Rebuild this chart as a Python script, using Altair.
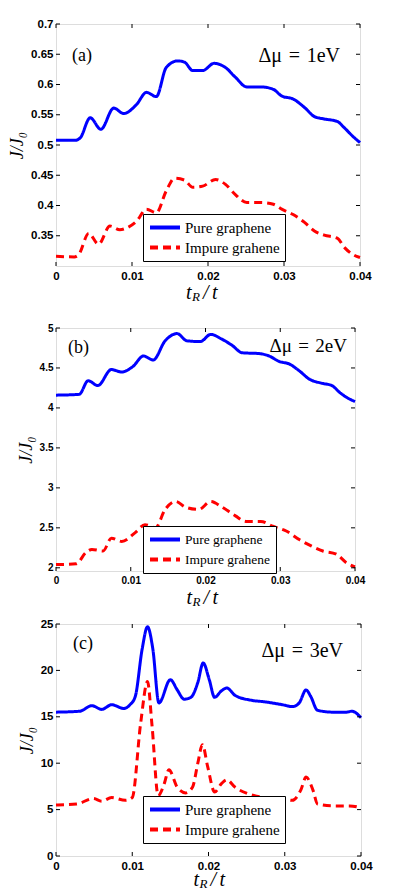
import altair as alt
import pandas as pd

PURE = "Pure graphene"
IMPURE = "Impure grahene"

# ---------------- Panel (a): Δμ = 1eV ----------------
a_x_pure = [0, 0.0026, 0.0032, 0.0045, 0.0059, 0.0076, 0.0089, 0.0106, 0.0119, 0.0132,
            0.0145, 0.016, 0.0169, 0.018, 0.0193, 0.0208, 0.0223, 0.0236, 0.0251, 0.027,
            0.0286, 0.0297, 0.0312, 0.0327, 0.034, 0.0353, 0.037, 0.0379, 0.039, 0.04]
a_y_pure = [0.508, 0.508, 0.512, 0.545, 0.526, 0.561, 0.552, 0.567, 0.587, 0.58,
            0.628, 0.639, 0.637, 0.623, 0.623, 0.635, 0.628, 0.612, 0.596, 0.596,
            0.592, 0.581, 0.576, 0.562, 0.547, 0.543, 0.539, 0.529, 0.515, 0.504]
a_x_imp = [0, 0.0024, 0.003, 0.0043, 0.0056, 0.0071, 0.0084, 0.0093, 0.0106, 0.0119,
           0.0132, 0.0145, 0.0156, 0.0169, 0.018, 0.0193, 0.021, 0.0223, 0.0236, 0.0251,
           0.027, 0.0286, 0.0297, 0.0312, 0.0327, 0.034, 0.0353, 0.037, 0.038, 0.0392, 0.04]
a_y_imp = [0.316, 0.315, 0.319, 0.354, 0.336, 0.366, 0.360, 0.363, 0.374, 0.394,
           0.388, 0.424, 0.445, 0.442, 0.430, 0.432, 0.443, 0.435, 0.418, 0.405,
           0.405, 0.402, 0.394, 0.385, 0.372, 0.358, 0.351, 0.346, 0.330, 0.318, 0.314]
a_yticks = [0.35, 0.4, 0.45, 0.5, 0.55, 0.6, 0.65, 0.7]

# ---------------- Panel (b): Δμ = 2eV ----------------
b_x_pure = [0, 0.0031, 0.0043, 0.0056, 0.0074, 0.0088, 0.0103, 0.0117, 0.013, 0.0146,
            0.0162, 0.0175, 0.0193, 0.0207, 0.0222, 0.0236, 0.0249, 0.0272, 0.0285, 0.0299,
            0.0312, 0.0326, 0.0339, 0.0355, 0.0369, 0.038, 0.0391, 0.04]
b_y_pure = [4.16, 4.17, 4.34, 4.28, 4.48, 4.45, 4.52, 4.65, 4.60, 4.84,
            4.93, 4.84, 4.83, 4.92, 4.86, 4.78, 4.69, 4.68, 4.65, 4.58,
            4.55, 4.46, 4.36, 4.31, 4.28, 4.19, 4.12, 4.08]
b_x_imp = [0, 0.0027, 0.004, 0.0048, 0.0063, 0.0074, 0.0088, 0.0106, 0.0119, 0.0133,
           0.0146, 0.016, 0.0173, 0.0191, 0.0207, 0.0222, 0.024, 0.0254, 0.0274, 0.029,
           0.0308, 0.0326, 0.0342, 0.0357, 0.0375, 0.0389, 0.04]
b_y_imp = [2.04, 2.05, 2.19, 2.23, 2.21, 2.37, 2.33, 2.44, 2.54, 2.50,
           2.73, 2.83, 2.76, 2.73, 2.83, 2.76, 2.65, 2.58, 2.58, 2.52,
           2.46, 2.35, 2.27, 2.21, 2.17, 2.06, 2.01]
b_yticks = [2, 2.5, 3, 3.5, 4, 4.5, 5]

# ---------------- Panel (c): Δμ = 3eV ----------------
c_x_pure = [0, 0.0031, 0.0047, 0.006, 0.0073, 0.0089, 0.0097, 0.0104, 0.0113, 0.012,
            0.0127, 0.0135, 0.015, 0.0159, 0.0168, 0.0177, 0.0186, 0.0193, 0.0201, 0.0208,
            0.0217, 0.0224, 0.0235, 0.0255, 0.0275, 0.0297, 0.031, 0.0319, 0.0328, 0.0334,
            0.0343, 0.0363, 0.0381, 0.0388, 0.04]
c_y_pure = [15.5, 15.6, 16.2, 15.8, 16.3, 15.9, 16.3, 17.2, 22.3, 24.7,
            22.3, 16.5, 19.0, 17.9, 16.9, 17.1, 18.7, 20.8, 19.0, 17.1,
            17.8, 18.1, 17.3, 16.8, 16.6, 16.3, 16.1, 16.5, 17.9, 17.2,
            15.7, 15.5, 15.5, 15.6, 14.9]
c_x_imp = [0, 0.0027, 0.0049, 0.006, 0.0073, 0.0091, 0.01, 0.0111, 0.012, 0.0126,
           0.0134, 0.0142, 0.0148, 0.0159, 0.017, 0.0179, 0.0186, 0.0192, 0.0199, 0.0208,
           0.0217, 0.0224, 0.0235, 0.0252, 0.0275, 0.0297, 0.031, 0.0321, 0.0328, 0.0337,
           0.0343, 0.0363, 0.0385, 0.04]
c_y_imp = [5.5, 5.6, 6.2, 5.9, 6.3, 6.0, 6.3, 14.3, 18.8, 14.0,
           6.5, 7.8, 9.3, 7.4, 6.8, 7.4, 10.0, 12.0, 9.6, 6.9,
           7.8, 8.2, 7.4, 6.7, 6.3, 6.2, 6.0, 7.1, 8.5, 7.1,
           5.6, 5.4, 5.4, 5.2]
c_yticks = [0, 5, 10, 15, 20, 25]

x_ticks = [0, 0.01, 0.02, 0.03, 0.04]

SERIF = "Liberation Serif"
SANS = "Liberation Sans"
SP = "\u2004"


def legend(leg_x, leg_y, leg_size):
    return alt.Legend(orient="none", legendX=leg_x, legendY=leg_y, title=None,
                      strokeColor="black", fillColor="white", padding=5,
                      symbolType="stroke", symbolSize=900, symbolStrokeWidth=4,
                      clipHeight=17, labelFont=SERIF, labelFontSize=leg_size, rowPadding=3,
                      labelOffset=3, labelColor="black")


def panel(xp, yp, xi, yi, ydomain, yticks, W, H, tag, dmu, dmu_size, tag_x, tag_y, dmu_r, dmu_y,
          leg_x, leg_y, lab_size, leg_size, title_dy, title_dx, spacer=0):
    df = pd.concat([
        pd.DataFrame({"x": xp, "y": yp, "s": PURE}),
        pd.DataFrame({"x": xi, "y": yi, "s": IMPURE}),
    ], ignore_index=True)
    xs = alt.Scale(domain=[0, 0.04], nice=False, zero=False)
    ys = alt.Scale(domain=ydomain, nice=False, zero=False)
    xax = alt.Axis(values=x_ticks, format="~g", title=None, labelFlush=False,
                   labelFontSize=lab_size, labelFontWeight="bold", labelPadding=4,
                   labelOverlap=False, tickSize=0, ticks=False, domain=False, grid=False)
    yax = alt.Axis(values=yticks, format="~g", title="J/J₀", labelFontSize=lab_size,
                   labelFontWeight="bold", labelPadding=3, labelOverlap=False,
                   tickSize=0, ticks=False, domain=False, grid=False, titleFont=SERIF,
                   titleFontStyle="italic", titleFontWeight="normal", titleFontSize=18,
                   titlePadding=4)

    lines = alt.Chart(df).mark_line(strokeWidth=3, interpolate="monotone").encode(
        x=alt.X("x:Q", scale=xs, axis=xax),
        y=alt.Y("y:Q", scale=ys, axis=yax),
        color=alt.Color("s:N", scale=alt.Scale(domain=[PURE, IMPURE], range=["#0000ff", "#ff0000"]),
                        legend=legend(leg_x, leg_y, leg_size)),
        strokeDash=alt.StrokeDash("s:N", scale=alt.Scale(domain=[PURE, IMPURE], range=[[1, 0], [8, 5]]),
                                  legend=legend(leg_x, leg_y, leg_size)),
    )

    ydf = pd.DataFrame({"y": yticks})
    xdf = pd.DataFrame({"x": x_ticks})
    tl = alt.Chart(ydf).mark_rule(color="black", strokeWidth=1).encode(
        y=alt.Y("y:Q", scale=ys, axis=yax), x=alt.value(0), x2=alt.value(4))
    tr = alt.Chart(ydf).mark_rule(color="black", strokeWidth=1).encode(
        y=alt.Y("y:Q", scale=ys, axis=yax), x=alt.value(W - 4), x2=alt.value(W))
    tb = alt.Chart(xdf).mark_rule(color="black", strokeWidth=1).encode(
        x=alt.X("x:Q", scale=xs, axis=xax), y=alt.value(H - 4), y2=alt.value(H))
    tt = alt.Chart(xdf).mark_rule(color="black", strokeWidth=1).encode(
        x=alt.X("x:Q", scale=xs, axis=xax), y=alt.value(0), y2=alt.value(4))

    tag_t = alt.Chart(pd.DataFrame({"t": [tag]})).mark_text(
        font=SERIF, fontSize=18, align="left", baseline="middle", color="black").encode(
        text="t:N", x=alt.value(tag_x), y=alt.value(tag_y))
    dmu_t = alt.Chart(pd.DataFrame({"t": [dmu]})).mark_text(
        font=SERIF, fontSize=dmu_size, align="right", baseline="middle", color="black").encode(
        text="t:N", x=alt.value(W - dmu_r), y=alt.value(dmu_y))

    cx = W / 2 + title_dx
    ty = H + title_dy
    parts = []
    for txt, dx, dy, fs in [("t", -17, 0, 20), ("R", -11, 4, 13), ("/", 0, 0, 20), ("t", 9, 0, 20)]:
        parts.append(alt.Chart(pd.DataFrame({"t": [txt]})).mark_text(
            font=SERIF, fontSize=fs, fontStyle="italic", align="left", baseline="middle",
            color="black").encode(text="t:N", x=alt.value(cx + dx), y=alt.value(ty + dy)))

    layers = [lines, tl, tr, tb, tt, tag_t, dmu_t] + parts
    if spacer:
        layers.append(alt.Chart(pd.DataFrame({"t": [0]})).mark_rule(strokeOpacity=0).encode(
            x=alt.value(cx), y=alt.value(ty), y2=alt.value(ty + spacer)))
    return alt.layer(*layers).properties(width=W, height=H)


pa = panel(a_x_pure, a_y_pure, a_x_imp, a_y_imp, [0.3, 0.7], a_yticks, 304, 242,
           "(a)", f"Δμ{SP}={SP}1eV", 20, 16, 32, 20, 32, 87, 190, 11.5, 15, 27, -5, spacer=21)
pb = panel(b_x_pure, b_y_pure, b_x_imp, b_y_imp, [1.96, 5], b_yticks, 299, 243,
           "(b)", f"Δμ{SP}={SP}2eV", 19, 12, 20, 8, 18, 87, 198, 10, 13.5, 27, -2)
pc = panel(c_x_pure, c_y_pure, c_x_imp, c_y_imp, [0, 25], c_yticks, 305, 232,
           "(c)", f"Δμ{SP}={SP}3eV", 20, 17, 20, 18, 27, 87, 172, 11.5, 15, 24, 2)

chart = alt.concat(pa, pb, pc, columns=1, spacing=7).resolve_scale(
    color="independent", strokeDash="independent"
).resolve_legend(color="independent", strokeDash="independent").properties(
    padding={"left": 0, "top": 9, "right": 2, "bottom": 2}
).configure_view(stroke="black", strokeWidth=1).configure_axis(
    domain=False, ticks=False, grid=False, labelFont=SANS, labelFontWeight="bold",
    labelColor="black", titleColor="black"
).configure(background="white")

chart.save("out.html", embed_options={"renderer": "svg", "actions": False})
